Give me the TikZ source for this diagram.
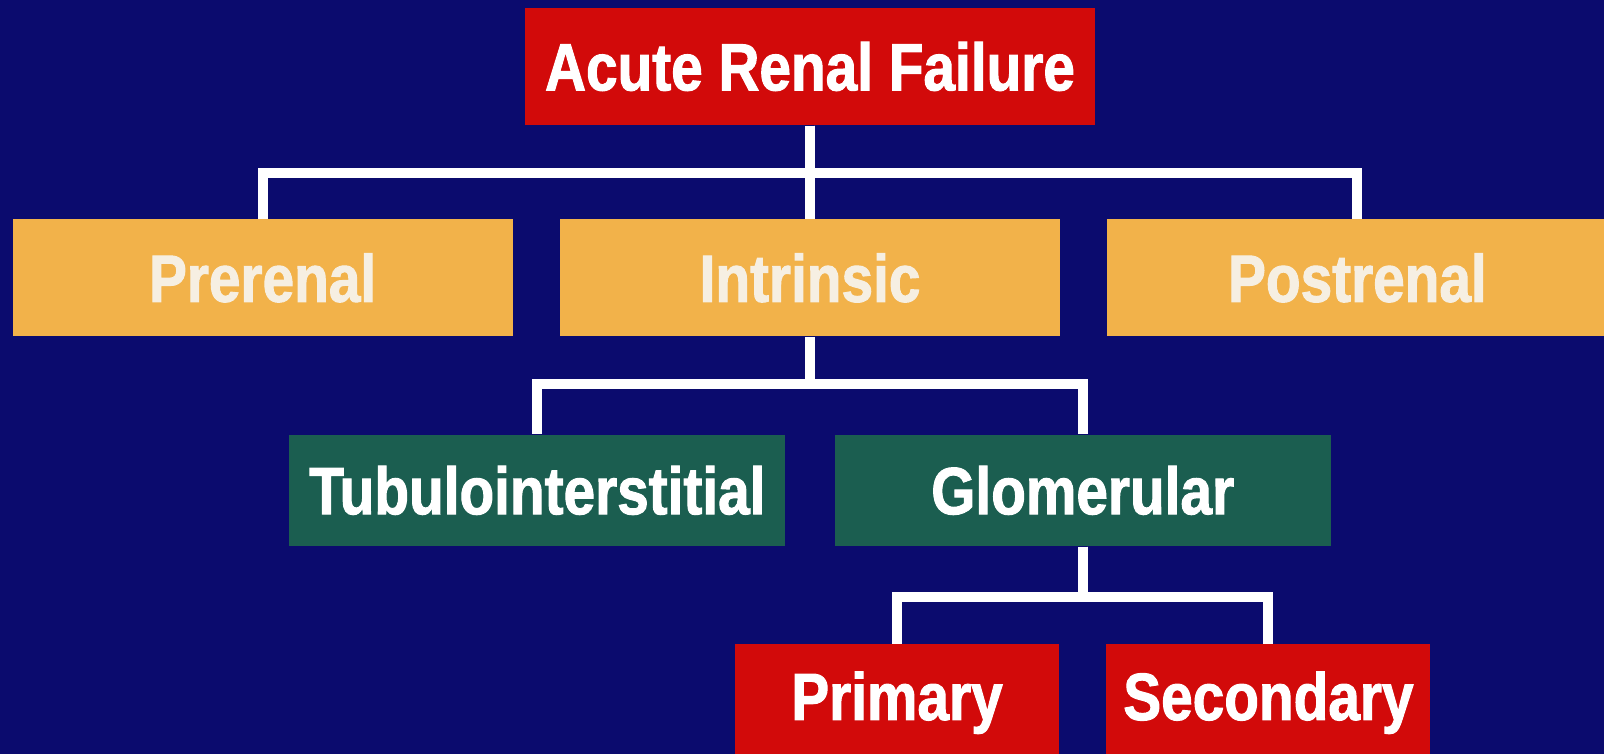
\documentclass[tikz,border=0pt]{standalone}
\usepackage{fontspec}
\setmainfont{Liberation Sans}[FakeStretch=0.85,BoldFeatures={FakeBold=1.5}]
\usepackage{xcolor}
\usetikzlibrary{positioning}
\definecolor{slidebg}{HTML}{0B0B6E}
\definecolor{boxred}{HTML}{D20A0A}
\definecolor{boxgold}{HTML}{F2B24A}
\definecolor{boxgreen}{HTML}{1B5E50}
\definecolor{paletext}{HTML}{F6EFE2}
\begin{document}
\begin{tikzpicture}[
  x=0.1mm,y=-0.1mm,
  box/.style={align=center,inner sep=0pt,font=\bfseries\fontsize{19}{22}\selectfont,text=white},
  redbox/.style={box,fill=boxred,minimum height=11.7mm},
  goldbox/.style={box,fill=boxgold,text=paletext,minimum width=50mm,minimum height=11.7mm},
  greenbox/.style={box,fill=boxgreen,minimum width=49.6mm,minimum height=11.1mm},
  conn/.style={draw=white,line width=1mm}
]
\useasboundingbox (0,0) rectangle (1604,754);
\clip (0,0) rectangle (1604,754);
\fill[slidebg] (0,0) rectangle (1604,754);
\node[redbox,minimum width=57mm] (arf) at (810,66.5) {Acute Renal Failure};
\node[goldbox,below=9.3mm of arf] (intr) {Intrinsic};
\node[goldbox,left=4.6mm of intr] (pre) {Prerenal};
\node[goldbox,right=4.6mm of intr] (post) {Postrenal};
\node[greenbox,below left=9.7mm and 2.4mm of intr.south] (tub) {Tubulointerstitial};
\node[greenbox,right=4.8mm of tub] (glom) {Glomerular};
\node[redbox,minimum width=32.4mm,below left=9.7mm and 2.3mm of glom.south] (prim) {Primary};
\node[redbox,minimum width=32.4mm,right=4.6mm of prim] (sec) {Secondary};
\foreach \x in {pre,intr,post} \draw[conn] (arf.south) -- ++(0,-4.7mm) -| (\x.north);
\foreach \x in {tub,glom} \draw[conn] (intr.south) -- ++(0,-4.7mm) -| (\x.north);
\foreach \x in {prim,sec} \draw[conn] (glom.south) -- ++(0,-5mm) -| (\x.north);
\end{tikzpicture}
\end{document}
